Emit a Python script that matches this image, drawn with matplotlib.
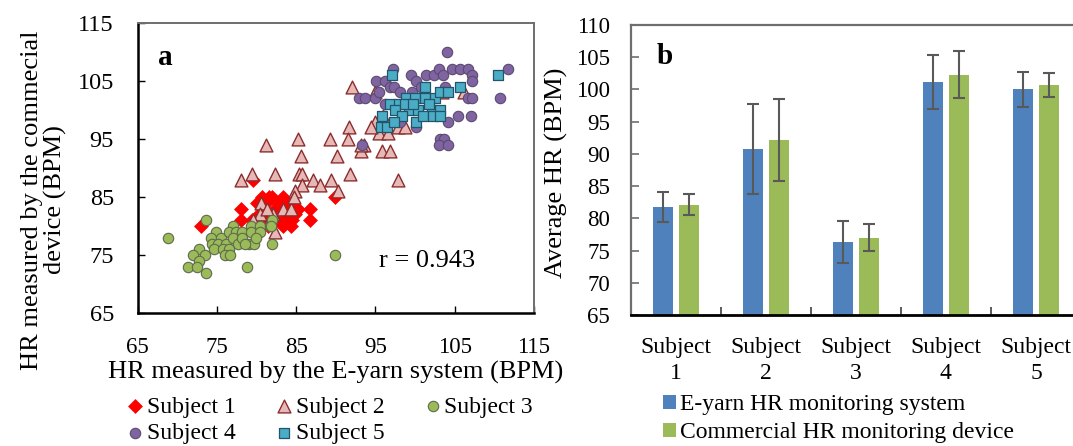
import matplotlib
matplotlib.use("Agg")
import matplotlib.pyplot as plt
from matplotlib.patches import Patch
import numpy as np

plt.rcParams['font.family'] = ['Liberation Serif', 'DejaVu Serif']

# ---------------- Data: panel a (scatter) ----------------
s1_x = [73.0, 79.6, 78.0, 78.0, 80.1, 80.7, 81.6, 82.7, 83.4, 84.2, 81.0, 81.8, 82.5, 83.3,
        83.9, 83.3, 84.3, 85.2, 84.8, 80.8, 81.4, 86.7, 86.7, 89.9, 79.4, 80.3, 83.9, 82.3,
        81.2, 82.0, 84.5]
s1_y = [80, 88, 83, 81, 84, 85, 85, 84, 85, 84, 83, 82, 81, 81,
        81, 80, 80, 83, 82, 81, 80, 83, 81, 85, 81, 82, 83, 83,
        84, 85, 81]

s2_x = [92.1, 91.7, 81.2, 85.2, 89.3, 91.6, 85.6, 90.2, 82.3, 85.4, 85.8, 87.1, 89.4, 91.8,
        85.7, 88.0, 90.3, 97.9, 93.6, 93.2, 95.8, 96.9, 94.9, 95.5, 96.6, 97.9, 98.7, 84.8,
        79.4, 78.1, 83.3, 84.4, 80.6, 82.3, 82.1, 84.7, 106.2, 93.2, 103.4, 94.9, 80.5,
        79.6, 81.3, 94.5, 96.0]
s2_y = [104, 97, 94, 95, 95, 95, 92, 92, 89, 89, 89, 88, 88, 89,
        87, 87, 86, 88, 94, 93, 93, 93, 98, 96, 96, 97, 97, 86,
        89, 88, 83, 83, 84, 79, 82, 85, 103, 94, 103, 103, 82,
        81, 83, 97, 99]

s3_x = [68.8, 73.7, 77.1, 74.9, 74.3, 75.5, 76.6, 77.4, 78.2, 79.3, 80.4, 79.3, 80.5, 81.7,
        74.4, 75.2, 76.1, 77.0, 77.7, 78.2, 79.1, 79.7, 74.7, 75.8, 76.6, 76.0, 76.7, 72.7,
        72.0, 73.5, 72.8, 71.4, 72.5, 73.6, 78.8, 81.9, 89.9, 82.0, 81.8, 78.6, 80.0]
s3_y = [78, 81, 80, 79, 78, 78, 79, 79, 79, 80, 80, 79, 79, 80,
        77, 77, 77, 78, 77, 78, 77, 77, 76, 76, 76, 75, 75, 76,
        75, 75, 74, 73, 73, 72, 73, 77, 75, 81, 80, 77, 78]

s4_x = [104.0, 97.2, 99.5, 100.1, 101.4, 102.4, 103.0, 103.5, 104.6, 105.7, 106.7, 107.2, 107.2,
        111.7, 95.1, 96.2, 96.8, 97.4, 92.9, 93.7, 95.0, 95.4, 110.7, 106.7, 107.2, 98.1, 99.6,
        100.8, 103.8, 105.4, 107.0, 104.2, 100.1, 103.2, 103.6, 103.0, 104.1, 93.3, 96.2, 98.1]
s4_y = [110, 107, 106, 105, 106, 106, 107, 106, 107, 107, 107, 106, 105,
        107, 105, 105, 104, 104, 102, 102, 102, 103, 102, 102, 102, 103, 103,
        104, 104, 99, 99, 98, 97, 95, 95, 94, 94, 94, 101, 98]

s5_x = [97.1, 110.4, 101.2, 105.7, 96.9, 98.0, 98.9, 100.0, 101.2, 102.5, 103.1, 104.1, 99.3,
        100.4, 102.1, 103.2, 95.8, 97.5, 98.3, 100.1, 101.0, 102.3, 103.2, 95.7, 96.5, 97.3,
        98.7, 101.7, 99.8]
s5_y = [106, 106, 104, 104, 101, 101, 102, 102, 102, 102, 103, 103, 100,
        100, 100, 100, 99, 100, 99, 98, 99, 99, 99, 97, 97, 98,
        101, 101, 101]

r_text = "r = 0.943"

# ---------------- Data: panel b (bars) ----------------
subjects = ["Subject\n1", "Subject\n2", "Subject\n3", "Subject\n4", "Subject\n5"]
eyarn_mean = [81.8, 90.8, 76.3, 101.1, 100.0]
eyarn_err = [2.35, 7.0, 3.25, 4.2, 2.65]
comm_mean = [82.1, 92.1, 77.0, 102.3, 100.7]
comm_err = [1.6, 6.35, 2.05, 3.65, 1.9]

W, H = 1073, 446
fig = plt.figure(figsize=(W / 100, H / 100), dpi=100)

# ---------------- Panel a ----------------
ax1 = fig.add_axes([137.5 / W, 1 - 313.3 / H, (534 - 137.5) / W, (313.3 - 22.7) / H])
h1 = ax1.scatter(s1_x, s1_y, marker='D', s=50, c='#FF0000', edgecolors='#FF0000', linewidths=0.5,
                 label='Subject 1', zorder=3)
h2 = ax1.scatter(s2_x, s2_y, marker='^', s=85, c='#E6B9B8', edgecolors='#8B2E2C', linewidths=1.0,
                 label='Subject 2', zorder=4)
h3 = ax1.scatter(s3_x, s3_y, marker='o', s=56, c='#9BBB59', edgecolors='#5E6A4E', linewidths=0.8,
                 label='Subject 3', zorder=5)
h4 = ax1.scatter(s4_x, s4_y, marker='o', s=56, c='#8064A2', edgecolors='#5A4A70', linewidths=0.8,
                 label='Subject 4', zorder=6)
h5 = ax1.scatter(s5_x, s5_y, marker='s', s=52, c='#4BACC6', edgecolors='#23546A', linewidths=0.9,
                 label='Subject 5', zorder=7)

ax1.set_xlim(65, 115)
ax1.set_ylim(65, 115)
ax1.set_xticks(np.arange(65, 116, 10))
ax1.set_yticks(np.arange(65, 116, 10))
ax1.tick_params(axis='x', direction='in', length=5, width=1, labelsize=16.5, pad=17)
ax1.tick_params(axis='y', direction='in', length=5, width=1, labelsize=17.5, pad=17)
for side in ['left', 'bottom']:
    ax1.spines[side].set_linewidth(1.8)
    ax1.spines[side].set_color('black')
for side in ['top', 'right']:
    ax1.spines[side].set_linewidth(1.4)
    ax1.spines[side].set_color('#6E6E6E')
ax1.set_xlabel("HR measured by the E-yarn system (BPM)", fontsize=19, labelpad=2)
ax1.set_ylabel("HR measured by the commecial\ndevice (BPM)", fontsize=19, linespacing=1.05)
ax1.yaxis.set_label_coords(-0.178, 0.39)
ax1.text(0.052, 0.88, 'a', transform=ax1.transAxes, fontsize=21, fontweight='bold',
         va='center', ha='left')
ax1.text(0.61, 0.159, r_text, transform=ax1.transAxes, fontsize=19, va='baseline', ha='left')

# row-major order: S1 S2 S3 / S4 S5
leg1 = fig.legend(handles=[h1, h4, h2, h5, h3], loc='upper left',
                  bbox_to_anchor=(129.5 / W, 1 - 396 / H), ncol=3, frameon=False,
                  fontsize=17, handlelength=0.5, handletextpad=0.24, columnspacing=1.8,
                  labelspacing=0.2, borderpad=0, borderaxespad=0, scatterpoints=1)

# ---------------- Panel b ----------------
ax2 = fig.add_axes([630.7 / W, 1 - 315 / H, (1081 - 630.7) / W, (315 - 25) / H])
x = np.arange(len(subjects))
bw = 0.222
off = 0.145
err_kw = dict(ecolor='#595959', elinewidth=1.5, capsize=4.3, capthick=1.5)
b1 = ax2.bar(x - off, eyarn_mean, bw, color='#4F81BD', yerr=eyarn_err, error_kw=err_kw,
             label='E-yarn HR monitoring system', zorder=2)
b2 = ax2.bar(x + off, comm_mean, bw, color='#9BBB59', yerr=comm_err, error_kw=err_kw,
             label='Commercial HR monitoring device', zorder=2)
ax2.set_xlim(-0.5, 4.5)
ax2.set_ylim(65, 110)
ax2.set_yticks(np.arange(65, 111, 5))
ax2.set_xticks(x)
ax2.set_xticklabels(subjects, fontsize=17, linespacing=1.3)
ax2.set_xticks(np.arange(-0.5, 4.6, 1.0), minor=True)
ax2.tick_params(axis='x', which='major', length=0, pad=16)
ax2.tick_params(axis='x', which='minor', direction='in', length=6, width=1.2, color='#404040')
ax2.tick_params(axis='y', direction='in', length=6, width=1.2, color='#6E6E6E', labelsize=16.5, pad=15)
ax2.spines['left'].set_color('#6E6E6E')
ax2.spines['left'].set_linewidth(1.6)
ax2.spines['bottom'].set_color('black')
ax2.spines['bottom'].set_linewidth(2.0)
ax2.spines['top'].set_color('#6E6E6E')
ax2.spines['top'].set_linewidth(1.6)
ax2.spines['right'].set_visible(False)
ax2.set_ylabel("Average HR (BPM)", fontsize=19)
ax2.yaxis.set_label_coords(-0.139, 0.49)
ax2.text(0.076, 0.891, 'b', transform=ax2.transAxes, fontsize=21, fontweight='bold',
         va='center', ha='center')

leg_handles = [Patch(facecolor='#4F81BD', edgecolor='none'), Patch(facecolor='#9BBB59', edgecolor='none')]
fig.legend(handles=leg_handles,
           labels=['E-yarn HR monitoring system', 'Commercial HR monitoring device'],
           loc='upper left', bbox_to_anchor=(663 / W, 1 - 394 / H), ncol=1, frameon=False,
           fontsize=17, handlelength=0.55, handleheight=0.55, handletextpad=0.16,
           labelspacing=0.3, borderpad=0, borderaxespad=0)

fig.savefig("out.png", dpi=100)
